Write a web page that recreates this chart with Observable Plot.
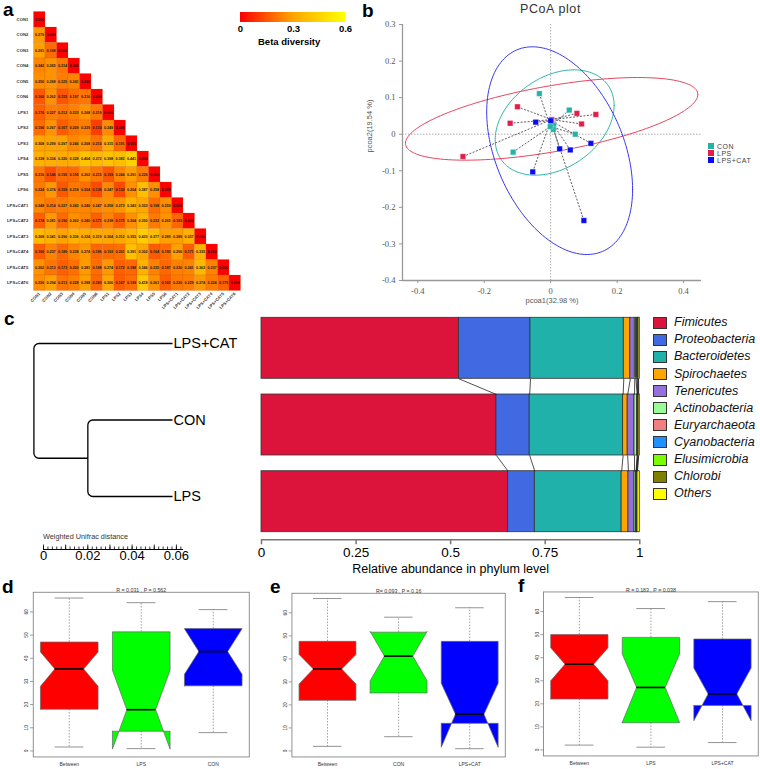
<!DOCTYPE html>
<html><head><meta charset="utf-8">
<script src="https://cdn.jsdelivr.net/npm/d3@7"></script>
<script src="https://cdn.jsdelivr.net/npm/@observablehq/plot@0.6"></script>
<style>
body{margin:0;background:#fff;}
#fig{position:relative;width:760px;height:769px;overflow:hidden;font-family:"Liberation Sans",Arial,sans-serif;background:#fff;}
#fig > *{position:absolute;}
.lab{font-weight:bold;font-size:19px;line-height:19px;color:#000;}
</style></head><body><div id="fig"></div>
<script>
// ---------- Panel a data ----------
const samples = ["CON1","CON2","CON3","CON4","CON5","CON6","LPS1","LPS2","LPS3","LPS4","LPS5","LPS6","LPS+CAT1","LPS+CAT2","LPS+CAT3","LPS+CAT4","LPS+CAT5","LPS+CAT6"];
const betaRows = [
 [0.000],
 [0.279,0.000],
 [0.291,0.198,0.000],
 [0.242,0.265,0.214,0.000],
 [0.256,0.268,0.225,0.241,0.000],
 [0.160,0.262,0.155,0.197,0.216,0.000],
 [0.176,0.227,0.212,0.233,0.268,0.219,0.000],
 [0.196,0.267,0.167,0.209,0.229,0.110,0.249,0.000],
 [0.308,0.299,0.297,0.246,0.268,0.210,0.315,0.191,0.000],
 [0.338,0.334,0.320,0.328,0.404,0.372,0.398,0.382,0.441,0.000],
 [0.216,0.146,0.195,0.195,0.262,0.215,0.159,0.244,0.291,0.226,0.000],
 [0.224,0.274,0.159,0.218,0.204,0.136,0.247,0.132,0.264,0.387,0.258,0.000],
 [0.248,0.214,0.227,0.243,0.246,0.247,0.258,0.273,0.343,0.303,0.198,0.259,0.000],
 [0.174,0.281,0.190,0.262,0.240,0.171,0.238,0.175,0.264,0.350,0.222,0.265,0.183,0.000],
 [0.368,0.341,0.296,0.336,0.324,0.319,0.304,0.312,0.355,0.433,0.377,0.289,0.289,0.337,0.000],
 [0.166,0.237,0.189,0.238,0.274,0.186,0.193,0.201,0.391,0.302,0.164,0.195,0.290,0.171,0.335,0.000],
 [0.262,0.213,0.173,0.203,0.281,0.198,0.274,0.172,0.188,0.346,0.235,0.187,0.230,0.241,0.363,0.237,0.000],
 [0.256,0.294,0.213,0.228,0.288,0.183,0.306,0.167,0.199,0.418,0.261,0.165,0.220,0.229,0.274,0.224,0.179,0.000]
];
const betaDomain = [0, 0.3, 0.6];
const betaRange = ["#ff0000", "#ffa500", "#ffff00"];
const betaTicks = [0, 0.3, 0.6];

// ---------- Panel b data ----------
const pcoaGroups = ["CON","LPS","LPS+CAT"];
const pcoaColors = ["#22b3a6","#e31c48","#0a0af5"];
const ellipseColors = ["#2db5a8","#e8455f","#3a3af0"];
const conPC1 = [-0.034, 0.056, 0.009, 0.008, 0.074, -0.113];
const conPC2 = [0.111, 0.066, 0.025, 0.013, 0.000, -0.049];
const lpsPC1 = [-0.100, -0.122, 0.079, 0.136, 0.093, -0.264];
const lpsPC2 = [0.075, 0.030, 0.057, 0.054, 0.028, -0.061];
const catPC1 = [-0.045, 0.027, 0.059, 0.121, -0.054, 0.100];
const catPC2 = [0.033, -0.040, -0.043, -0.025, -0.103, -0.236];
const centerPC1 = [-0.001, 0.003, 0.000];
const centerPC2 = [0.021, 0.040, 0.037];
const ellipseCX = [0.012, 0.003, 0.027];
const ellipseCY = [0.032, 0.042, -0.045];
const ellipseSX = [0.179, 0.440, 0.2196];
const ellipseSY = [0.144, 0.113, 0.284];
const ellipseR  = [0.324, 0.590, -0.373];
const pcoaXTicks = [-0.4, -0.2, 0, 0.2, 0.4];
const pcoaYTicks = [-0.4, -0.3, -0.2, -0.1, 0, 0.1, 0.2, 0.3];

// ---------- Panel c data ----------
const treeLeaves = ["LPS+CAT","CON","LPS"];
const treeMergeHeights = [0.0386, 0.0632]; // CON–LPS merge, root
const treeScaleTicks = [0, 0.02, 0.04, 0.06];
const barGroups = ["LPS+CAT","CON","LPS"];
const phyla = ["Fimicutes","Proteobacteria","Bacteroidetes","Spirochaetes","Tenericutes","Actinobacteria","Euryarchaeota","Cyanobacteria","Elusimicrobia","Chlorobi","Others"];
const phylumColors = ["#DC143C","#4169E1","#20B2AA","#FFA500","#9370DB","#98FB98","#F08080","#1E90FF","#7CFC00","#808000","#FFFF00"];
const abundLPSCAT = [0.522, 0.189, 0.2467, 0.0173, 0.0118, 0.003, 0.003, 0.002, 0.001, 0.001, 0.0032];
const abundCON    = [0.621, 0.088, 0.247, 0.012, 0.018, 0.007, 0.001, 0.001, 0.001, 0.001, 0.003];
const abundLPS    = [0.652, 0.0705, 0.2295, 0.018, 0.016, 0.004, 0.001, 0.001, 0.001, 0.001, 0.006];
const abundTicks = [0, 0.25, 0.5, 0.75, 1];

// ---------- Panels d, e, f data: [low whisker, Q1, notch low, median, notch high, Q3, high whisker] ----------
const boxColors = ["#FF0000","#00FF00","#0000FF"];
const boxYTicks = [0, 10, 20, 30, 40, 50, 60];
const dGroups = ["Between","LPS","CON"];
const dStats = [[1.7,18.0,27.9,35.4,42.7,47.0,66.0],[1.0,8.5,0.8,17.8,34.8,51.4,64.0],[7.9,28.1,33.1,42.9,52.7,52.8,61.0]];
const dTitle = "R = 0.031 , P = 0.562";
const eGroups = ["Between","CON","LPS+CAT"];
const eStats = [[2.0,22.0,29.1,35.6,41.9,47.6,66.2],[6.2,25.2,30.5,41.2,51.9,51.6,58.1],[1.0,12.0,1.6,16.0,29.4,47.6,62.2]];
const eTitle = "R= 0.093 , P = 0.16";
const fGroups = ["Between","LPS","LPS+CAT"];
const fStats = [[2.1,22.1,30.0,37.2,44.3,50.0,66.1],[1.2,11.8,12.0,27.1,41.6,48.8,61.3],[3.2,19.3,12.7,24.3,35.5,48.1,64.3]];
const fTitle = "R = 0.183 , P = 0.038";

// ---------- helpers ----------
const fig = document.getElementById("fig");
function place(el, left, top) { el.style.position = "absolute"; el.style.left = left + "px"; el.style.top = top + "px"; fig.appendChild(el); return el; }
// tiny text is drawn at 2x and scaled down to avoid browser minimum font size
function placeHalf(el, left, top) { place(el, left, top); el.style.transformOrigin = "0 0"; el.style.transform = "scale(0.5)"; return el; }
function addText(txt, left, top, css) { const d = document.createElement("div"); d.textContent = txt; d.style.cssText = "position:absolute;white-space:nowrap;" + (css || ""); place(d, left, top); return d; }
const sans = "Liberation Sans, Arial, sans-serif";
const baseStyle = {background: "transparent", fontFamily: sans, overflow: "visible"};

// ---------- Panel a: heatmap (drawn at 2x) ----------
const cells = [];
betaRows.forEach((row, i) => row.forEach((v, j) => cells.push({row: samples[i], col: samples[j], v})));
placeHalf(Plot.plot({
  width: 500, height: 620, marginLeft: 64, marginTop: 22, marginRight: 16, marginBottom: 38,
  style: baseStyle,
  x: {domain: samples, padding: 0},
  y: {domain: samples, padding: 0},
  color: {type: "linear", domain: betaDomain, range: betaRange},
  marks: [
    Plot.cell(cells, {x: "col", y: "row", fill: "v", stroke: "#b45000", strokeOpacity: 0.35, strokeWidth: 1}),
    Plot.text(cells, {x: "col", y: "row", text: d => d.v.toFixed(3), fontSize: 7.4, fontWeight: "bold", fill: "#1a1a1a"}),
    Plot.axisY({tickSize: 0, tickPadding: 8, fontSize: 8.4, fontWeight: "bold", fill: "#333", label: null}),
    Plot.axisX({tickSize: 0, tickPadding: 4, tickRotate: -45, fontSize: 8.4, fontWeight: "bold", fill: "#333", label: null})
  ]
}), 0, 0);
const leg = Plot.legend({
  color: {type: "linear", domain: betaDomain, range: betaRange},
  width: 117, height: 24, marginTop: 0, marginBottom: 14, marginLeft: 6, marginRight: 6,
  ticks: betaTicks, tickSize: 0, tickFormat: d => String(d), label: null,
  style: {background: "transparent", fontSize: "9.5px", fontWeight: "bold", fontFamily: sans, overflow: "visible"}
});
leg.querySelectorAll(".tick line").forEach(l => l.remove());
place(leg, 234, 12);
addText("Beta diversity", 258, 36, "font-size:9.5px;font-weight:bold;line-height:11px;");
addText("a", 3, 0, "").className = "lab";

// ---------- Panel b: PCoA ----------
const pcoaPts = [];
[[conPC1, conPC2], [lpsPC1, lpsPC2], [catPC1, catPC2]].forEach(([xs, ys], k) =>
  xs.forEach((x, i) => pcoaPts.push({g: pcoaGroups[k], k, x, y: ys[i], color: pcoaColors[k], cx: centerPC1[k], cy: centerPC2[k]})));
const centers = pcoaGroups.map((g, k) => ({g, x: centerPC1[k], y: centerPC2[k], color: pcoaColors[k]}));
const ellipsePts = [];
pcoaGroups.forEach((g, k) => {
  const rr = ellipseR[k], q = Math.sqrt(1 - rr * rr);
  for (let s = 0; s <= 160; s++) {
    const t = 2 * Math.PI * s / 160;
    ellipsePts.push({g, color: ellipseColors[k],
      x: ellipseCX[k] + ellipseSX[k] * Math.cos(t),
      y: ellipseCY[k] + ellipseSY[k] * (rr * Math.cos(t) + q * Math.sin(t))});
  }
});
const pxMin = -0.446, pxMax = 0.454;
place(Plot.plot({
  width: 400, height: 310, marginLeft: 42, marginRight: 59, marginTop: 24, marginBottom: 30,
  style: baseStyle,
  x: {domain: [pxMin, pxMax]},
  y: {domain: [pcoaYTicks[0], pcoaYTicks[pcoaYTicks.length - 1]]},
  color: {type: "identity"},
  marks: [
    Plot.ruleX([0], {stroke: "#999", strokeDasharray: "1.5,1.5", strokeWidth: 0.8}),
    Plot.ruleY([0], {stroke: "#999", strokeDasharray: "1.5,1.5", strokeWidth: 0.8}),
    Plot.line(ellipsePts, {x: "x", y: "y", z: "g", stroke: "color", strokeWidth: 1}),
    Plot.link(pcoaPts, {x1: "x", y1: "y", x2: "cx", y2: "cy", stroke: "#333", strokeDasharray: "2,1.5", strokeWidth: 0.8}),
    Plot.dot(pcoaPts, {x: "x", y: "y", symbol: "square", r: 3.1, fill: "color", stroke: "#fff", strokeOpacity: 0.5, strokeWidth: 0.6}),
    Plot.dot(centers, {x: "x", y: "y", symbol: "square", r: 3.1, fill: "color", stroke: "#fff", strokeOpacity: 0.5, strokeWidth: 0.6}),
    Plot.ruleX([pxMin], {stroke: "#999", strokeWidth: 1.3}),
    Plot.ruleY([pcoaYTicks[0]], {stroke: "#999", strokeWidth: 1.3}),
    Plot.axisX({ticks: pcoaXTicks, tickSize: 3, tickPadding: 4, tickFormat: d => String(d), fontSize: 8.5, fontFamily: "Liberation Serif, serif", fill: "#555", stroke: "#999", label: null}),
    Plot.axisY({ticks: pcoaYTicks, tickSize: 3, tickPadding: 4, tickFormat: d => String(d), fontSize: 8.5, fontFamily: "Liberation Serif, serif", fill: "#555", stroke: "#999", label: null}),
    Plot.text(["pcoa1(32.98 %)"], {frameAnchor: "bottom", dy: 22, fontSize: 7.5, fill: "#555", fontFamily: sans}),
    Plot.text(["pcoa2(19.54 %)"], {frameAnchor: "left", dx: -33, rotate: -90, fontSize: 7.5, fill: "#555", fontFamily: sans})
  ]
}), 360, 0);
addText("PCoA plot", 520, 2, "font-size:12.5px;color:#333;line-height:14px;letter-spacing:0.6px;");
addText("b", 362, 1, "").className = "lab";
pcoaGroups.forEach((g, k) => {
  const sq = document.createElement("div");
  sq.style.cssText = `width:6px;height:6px;background:${pcoaColors[k]};`;
  place(sq, 708, 143 + k * 7.2);
  addText(g, 717, 141.5 + k * 7.2, "font-size:7px;line-height:9px;color:#444;letter-spacing:0.5px;");
});

// ---------- Panel c: dendrogram ----------
const treeY = {}; treeLeaves.forEach((l, i) => treeY[l] = i);
const mergeY = (treeY["CON"] + treeY["LPS"]) / 2;
const rootY = (treeY["LPS+CAT"] + mergeY) / 2;
const treeLinks = [
  {x1: treeMergeHeights[1], y1: rootY, x2: 0, y2: treeY["LPS+CAT"]},
  {x1: treeMergeHeights[1], y1: rootY, x2: treeMergeHeights[0], y2: mergeY},
  {x1: treeMergeHeights[0], y1: mergeY, x2: 0, y2: treeY["CON"]},
  {x1: treeMergeHeights[0], y1: mergeY, x2: 0, y2: treeY["LPS"]}
];
function elbow(context) {
  let pts = [];
  return {
    areaStart() {}, areaEnd() {},
    lineStart() { pts = []; },
    point(x, y) { pts.push([x, y]); },
    lineEnd() {
      const [[x1, y1], [x2, y2]] = pts;
      context.moveTo(x1, y1);
      if (Math.abs(y2 - y1) > 1) { context.arcTo(x1, y2, x2, y2, 5); }
      context.lineTo(x2, y2);
    }
  };
}
const leafLabels = treeLeaves.map((l, i) => ({l, x: 0, y: i}));
place(Plot.plot({
  width: 250, height: 230, marginLeft: 33.4, marginRight: 78, marginTop: 43, marginBottom: 34,
  style: baseStyle,
  x: {domain: [0, treeMergeHeights[1]], reverse: true, axis: null},
  y: {domain: [0, 2], reverse: true, axis: null},
  marks: [
    Plot.link(treeLinks, {x1: "x1", y1: "y1", x2: "x2", y2: "y2", curve: elbow, stroke: "#000", strokeWidth: 1.3}),
    Plot.text(leafLabels, {x: "x", y: "y", text: "l", textAnchor: "start", dx: 1, fontSize: 14.5, fill: "#000"})
  ]
}), 0, 300);
// scale bar
place(Plot.plot({
  width: 250, height: 40, marginLeft: 43, marginRight: 67, marginTop: 14, marginBottom: 21,
  style: baseStyle,
  x: {domain: [0, treeMergeHeights[1]]},
  y: {domain: [0, 5], axis: null},
  marks: [
    Plot.ruleY([0], {x1: 0, x2: treeMergeHeights[1], stroke: "#000", strokeWidth: 1}),
    Plot.ruleX(d3.range(0, treeMergeHeights[1] + 1e-9, 0.002), {x: d => d, y1: 0, y2: 2.5, stroke: "#000", strokeWidth: 0.8}),
    Plot.ruleX(d3.range(0, treeMergeHeights[1] + 1e-9, 0.01), {x: d => d, y1: 0, y2: 4.5, stroke: "#000", strokeWidth: 0.8}),
    Plot.axisX({ticks: treeScaleTicks, tickSize: 0, tickPadding: 1, tickFormat: d => String(d), fontSize: 13, fill: "#000", label: null})
  ]
}), 0, 530);
addText("Weighted Unifrac distance", 43, 532, "font-size:7.3px;line-height:9px;color:#333;");
addText("c", 4, 309, "").className = "lab";

// ---------- Panel c: stacked bars ----------
const barFrac = 0.795, barAxisY = 2.894;
const abundByGroup = [abundLPSCAT, abundCON, abundLPS];
const barRects = [], cumByGroup = [];
abundByGroup.forEach((vals, i) => {
  let c = 0; const cums = [];
  vals.forEach((v, k) => { barRects.push({g: barGroups[i], phylum: phyla[k], x1: c, x2: c + v, y1: i, y2: i + barFrac, color: phylumColors[k]}); c += v; cums.push(c); });
  cumByGroup.push(cums);
});
const barLinks = [];
for (let i = 0; i < abundByGroup.length - 1; i++)
  for (let k = 0; k < phyla.length - 1; k++)
    barLinks.push({x1: cumByGroup[i][k], y1: i + barFrac, x2: cumByGroup[i + 1][k], y2: i + 1});
place(Plot.plot({
  width: 400, height: 280, marginLeft: 11, marginRight: 10.7, marginTop: 17.3, marginBottom: 40.7,
  style: baseStyle,
  x: {domain: [0, 1]},
  y: {domain: [0, barAxisY], reverse: true, axis: null},
  color: {type: "identity"},
  marks: [
    Plot.rect(barRects, {x1: "x1", x2: "x2", y1: "y1", y2: "y2", fill: "color", stroke: "#333", strokeWidth: 0.8}),
    Plot.link(barLinks, {x1: "x1", y1: "y1", x2: "x2", y2: "y2", stroke: "#222", strokeWidth: 0.8}),
    Plot.ruleY([barAxisY], {x1: 0, x2: 1, stroke: "#777", strokeWidth: 1.5}),
    Plot.axisX({ticks: abundTicks, tickSize: 5, tickPadding: 3, tickFormat: d => String(d), fontSize: 13.5, fill: "#000", stroke: "#777", strokeWidth: 1.5, label: null}),
    Plot.text(["Relative abundance in phylum level"], {frameAnchor: "bottom", dy: 33.5, fontSize: 12.5, fill: "#000"})
  ]
}), 250, 300);
phyla.forEach((p, k) => {
  const yc = 322.7 + k * 17.1;
  const sq = document.createElement("div");
  sq.style.cssText = `box-sizing:border-box;width:14px;height:12px;background:${phylumColors[k]};border:1px solid #333;`;
  place(sq, 653, yc - 6);
  addText(p, 674, yc - 7.5, "font-size:12.5px;line-height:15px;font-style:italic;color:#111;");
});

// ---------- Panels d, e, f: notched boxplots (drawn at 2x) ----------
function boxPanel(groups, stats, title, left, width, mLeft, mTop, mBottom) {
  const w = 0.4;
  const rows = stats.map((s, i) => ({c: i + 1, g: groups[i], color: boxColors[i], lo: s[0], q1: s[1], nlo: s[2], med: s[3], nhi: s[4], q3: s[5], hi: s[6]}));
  const poly = [];
  rows.forEach(r => {
    const c = r.c;
    [[c - w, r.q1], [c - w, r.nlo], [c - w / 2, r.med], [c - w, r.nhi], [c - w, r.q3], [c + w, r.q3], [c + w, r.nhi], [c + w / 2, r.med], [c + w, r.nlo], [c + w, r.q1], [c - w, r.q1]]
      .forEach(([x, y]) => poly.push({g: r.g, color: r.color, x, y}));
  });
  return placeHalf(Plot.plot({
    width: width * 2, height: 388, marginLeft: mLeft * 2, marginRight: 4, marginTop: mTop * 2, marginBottom: mBottom * 2,
    style: baseStyle,
    x: {domain: [0.5, 3.5]},
    y: {domain: [-2.6, 68.5]},
    color: {type: "identity"},
    marks: [
      Plot.ruleX(rows, {x: "c", y1: "q3", y2: "hi", stroke: "#777", strokeDasharray: "3,3", strokeWidth: 1.4}),
      Plot.ruleX(rows, {x: "c", y1: "q1", y2: "lo", stroke: "#777", strokeDasharray: "3,3", strokeWidth: 1.4}),
      Plot.ruleY(rows, {y: "hi", x1: d => d.c - w / 2, x2: d => d.c + w / 2, stroke: "#777", strokeWidth: 1.6}),
      Plot.ruleY(rows, {y: "lo", x1: d => d.c - w / 2, x2: d => d.c + w / 2, stroke: "#777", strokeWidth: 1.6}),
      Plot.line(poly, {x: "x", y: "y", z: "g", fill: "color", stroke: "#666", strokeWidth: 1.4}),
      Plot.ruleY(rows, {y: "med", x1: d => d.c - w / 2, x2: d => d.c + w / 2, stroke: "#000", strokeWidth: 3.2}),
      Plot.frame({stroke: "#777", strokeWidth: 1.6}),
      Plot.axisY({ticks: boxYTicks, tickSize: 6, tickPadding: 4, tickRotate: -90, fontSize: 9.5, fill: "#333", stroke: "#777", strokeWidth: 1.4, label: null}),
      Plot.axisX({ticks: [1, 2, 3], tickSize: 0, tickPadding: 10, tickFormat: i => groups[i - 1], fontSize: 10, fill: "#333", label: null}),
      Plot.text([title], {frameAnchor: "top", dy: -8, fontSize: 10.5, fill: "#333"})
    ]
  }), left, 575);
}
boxPanel(dGroups, dStats, dTitle, 0, 251, 33, 17, 12.3);
boxPanel(eGroups, eStats, eTitle, 252, 255, 39.7, 18, 12.3);
boxPanel(fGroups, fStats, fTitle, 507, 253, 36.3, 16.7, 13.3);
addText("d", 2, 577, "").className = "lab";
addText("e", 270, 577, "").className = "lab";
addText("f", 518, 578, "line-height:16px;").className = "lab";
</script></body></html>
